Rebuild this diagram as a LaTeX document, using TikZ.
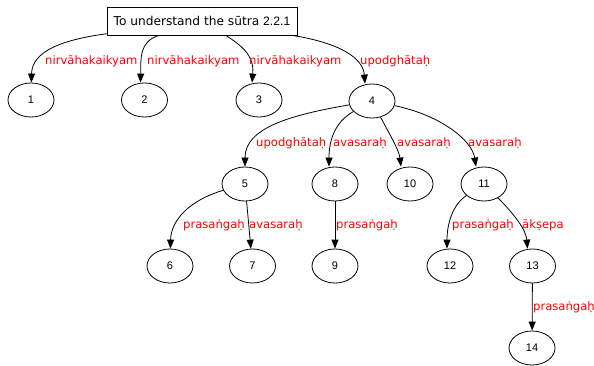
\documentclass[tikz,border=0pt]{standalone}
\usepackage{fontspec}
\usepackage{tikz}
\setmainfont{DejaVu Sans}
\newfontfamily\numfont{Liberation Sans}
\usetikzlibrary{arrows.meta}
\usetikzlibrary{shapes.geometric}
\definecolor{ffqqqq}{rgb}{1.,0.,0.}
\begin{document}
\begin{tikzpicture}[line cap=round,line join=round,>={Triangle[length=9pt,width=7pt]},x=1pt,y=-1pt,
  every node/.style={font=\fontsize{11.6}{14}\selectfont},
  num/.style={draw,ellipse,line width=0.8pt,minimum width=46pt,minimum height=34pt,inner sep=0pt,font=\numfont\fontsize{11}{13}\selectfont},
  lbl/.style={anchor=west,inner sep=0pt,text height=8.4pt,text depth=2pt,color=ffqqqq},
  edge/.style={->,line width=0.8pt}]
  \useasboundingbox (0,0) rectangle (594,366);
  % nodes
  \node[draw,line width=0.8pt,minimum width=190pt,minimum height=28pt,inner sep=0pt,font=\fontsize{12.2}{14}\selectfont] (root) at (202,21) {To understand the sūtra {\numfont 2.2.1}};
  \node[num] (n1) at (31,100) {1};
  \node[num] (n2) at (144.5,100) {2};
  \node[num] (n3) at (259,100) {3};
  \node[num] (n4) at (372,101) {4};
  \node[num] (n5) at (245,184) {5};
  \node[num] (n8) at (335,184) {8};
  \node[num] (n10) at (410,184) {10};
  \node[num] (n11) at (484,184) {11};
  \node[num] (n6) at (170,266) {6};
  \node[num] (n7) at (252.5,266) {7};
  \node[num] (n9) at (335,266) {9};
  \node[num] (n12) at (450,266) {12};
  \node[num] (n13) at (532.5,266) {13};
  \node[num] (n14) at (532,348) {14};
  % edges
  \draw[edge] (root) .. controls (60,40) and (32,52) .. (n1);
  \draw[edge] (root) .. controls (139,42) and (141,58) .. ([xshift=-4pt]n2.north);
  \draw[edge] (root) .. controls (248,49) and (254,60) .. ([xshift=-7pt]n3.north);
  \draw[edge] (root) .. controls (340,43) and (363,58) .. ([xshift=-7pt]n4.north);
  \draw[edge] (n4) .. controls (290,115) and (245,128) .. (n5);
  \draw[edge] (n4) .. controls (335,122) and (329,140) .. ([xshift=-6pt]n8.north);
  \draw[edge] (n4) .. controls (390,135) and (399,150) .. ([xshift=-9pt]n10.north);
  \draw[edge] (n4) .. controls (440,115) and (472,140) .. ([xshift=-8pt]n11.north);
  \draw[edge] (n5) .. controls (190,200) and (171,220) .. (n6);
  \draw[edge] (n5) -- (n7);
  \draw[edge] (n8) -- (n9);
  \draw[edge] (n11) .. controls (452,205) and (447,225) .. ([xshift=-3pt]n12.north);
  \draw[edge] (n11) .. controls (515,215) and (526,230) .. ([xshift=-5pt]n13.north);
  \draw[edge] (n13) -- (n14);
  % labels
  \node[lbl] (l1) at (45,61) {nirvāhakaikyam};
  \node[lbl] (l2) at (147,61) {nirvāhakaikyam};
  \node[lbl] (l3) at (249,61) {nirvāhakaikyam};
  \node[lbl] (l4) at (360,61) {upodghātaḥ};
  \node[lbl] (l5) at (256,143) {upodghātaḥ};
  \node[lbl] (l8) at (333,143) {avasaraḥ};
  \node[lbl] (l10) at (397,143) {avasaraḥ};
  \node[lbl] (l11) at (468,143) {avasaraḥ};
  \node[lbl] (l6) at (183,225) {prasaṅgaḥ};
  \node[lbl] (l7) at (249,225) {avasaraḥ};
  \node[lbl] (l9) at (336,225) {prasaṅgaḥ};
  \node[lbl] (l12) at (452,225) {prasaṅgaḥ};
  \node[lbl] (l13) at (522,225) {ākṣepa};
  \node[lbl] (l14) at (533,307) {prasaṅgaḥ};
\end{tikzpicture}
\end{document}
